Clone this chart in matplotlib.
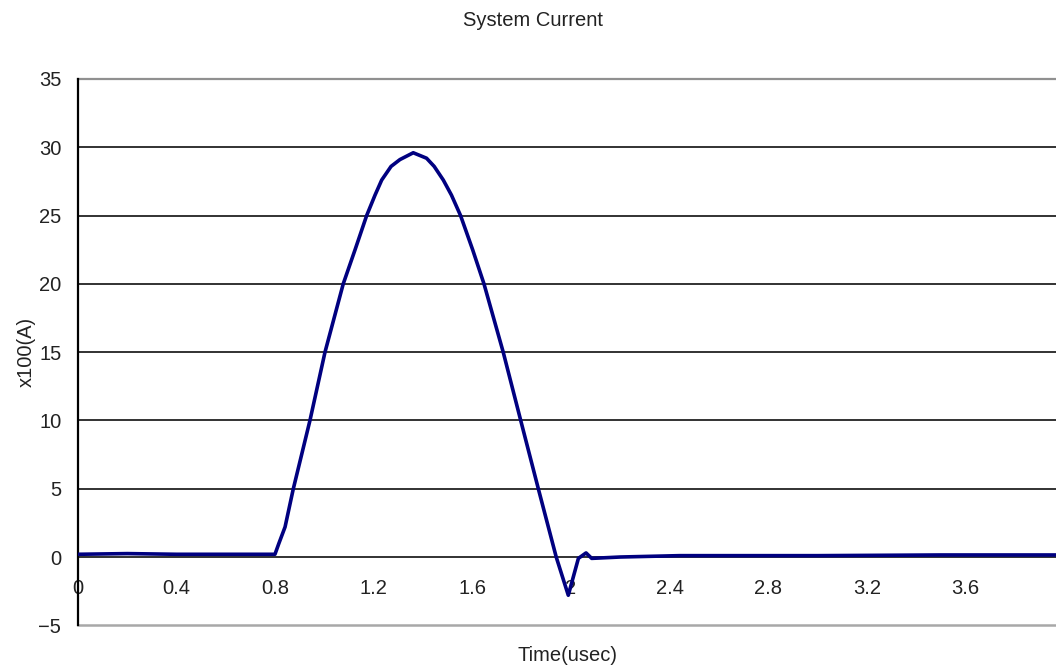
import numpy as np
import matplotlib
matplotlib.use('Agg')
from matplotlib import pyplot as plt

# tempo (usec) e corrente (x100 A)
tempo = [0.0, 0.2, 0.4, 0.6, 0.79, 0.799, 0.815, 0.840, 0.873, 0.941, 1.002,
         1.076, 1.124, 1.171, 1.205, 1.232, 1.270, 1.306, 1.36, 1.414, 1.445,
         1.482, 1.515, 1.552, 1.601, 1.647, 1.725, 1.796, 1.868, 1.940, 1.989,
         2.03, 2.061, 2.084, 2.2, 2.44, 3.0, 3.5, 3.97]
corrente = [0.2, 0.25, 0.2, 0.2, 0.2, 0.2, 1.0, 2.2, 4.96, 10.0, 15.0,
            20.0, 22.5, 25.0, 26.5, 27.6, 28.6, 29.1, 29.6, 29.2, 28.6,
            27.6, 26.5, 25.0, 22.5, 20.0, 15.0, 10.0, 4.96, 0.0, -2.8,
            -0.1, 0.3, -0.1, 0.0, 0.1, 0.1, 0.15, 0.15]

xticks = [0, 0.4, 0.8, 1.2, 1.6, 2.0, 2.4, 2.8, 3.2, 3.6]
xticklabels = ['0', '0.4', '0.8', '1.2', '1.6', '2', '2.4', '2.8', '3.2', '3.6']
yticks = [-5, 0, 5, 10, 15, 20, 25, 30, 35]

plt.rcParams['font.family'] = ['Liberation Sans', 'DejaVu Sans']

fig = plt.figure(figsize=(10.56, 6.70), dpi=100)
ax = fig.add_axes([78/1056., 1-625.3/670., 1-78/1056., (625.3-79)/670.])

for yv in [0, 5, 10, 15, 20, 25, 30]:
    ax.axhline(yv, color='#222222', lw=1.3, zorder=1)
ax.axhline(-5, color='#a8a8a8', lw=1.8, clip_on=False, zorder=1)
ax.axhline(35, color='#909090', lw=1.6, clip_on=False, zorder=1)

ax.plot(tempo, corrente, color='#000080', lw=2.6, zorder=3,
        solid_joinstyle='round')

ax.set_xlim(0, (1056-78)/246.5)
ax.set_ylim(-5, 35)

for s in ['top', 'right', 'bottom']:
    ax.spines[s].set_visible(False)
ax.spines['left'].set_color('black')
ax.spines['left'].set_linewidth(1.6)

ax.set_xticks(xticks)
ax.set_xticklabels(xticklabels)
ax.set_yticks(yticks)
ax.set_yticklabels([str(v).replace('-', '\u2212') for v in yticks])
# rotulos de x ficam logo abaixo da linha do zero
ax.spines['bottom'].set_position(('data', 0))
ax.tick_params(axis='x', length=0, pad=16, labelsize=14.5, colors='#222222')
ax.tick_params(axis='y', length=0, pad=12, labelsize=14.5, colors='#222222')

ax.set_xlabel('Time(usec)', fontsize=14.5, color='#222222')
ax.xaxis.set_label_coords(0.5, -0.038)
ax.set_ylabel('x100(A)', fontsize=14.5, color='#222222')
ax.yaxis.set_label_coords(-0.043, 0.5)

fig.text(533/1056., 1-20/670., 'System Current', ha='center', va='center',
         fontsize=14.5, color='#222222')

fig.savefig('out.png', dpi=100)
